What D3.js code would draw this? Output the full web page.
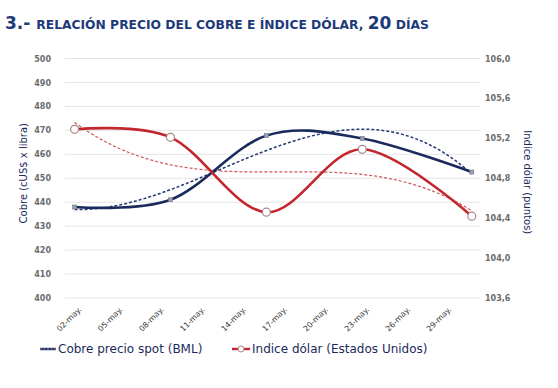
<!DOCTYPE html>
<html>
<head>
<meta charset="utf-8">
<script src="https://cdn.jsdelivr.net/npm/d3@7"></script>
<style>
  html, body { margin: 0; padding: 0; background: #fff; }
  svg { display: block; }
</style>
</head>
<body>
<svg id="chart" width="558" height="388"></svg>
<script>
// ---- DATA ----
const dates = ["2013-05-02", "2013-05-09", "2013-05-16", "2013-05-23", "2013-05-31"];
const cobre = [438, 441, 467.8, 466.6, 452.6];          // cUS$ x libra (left axis)
const dolar = [105.29, 105.21, 104.46, 105.09, 104.42];  // puntos (right axis)
const tickDates = ["2013-05-02", "2013-05-05", "2013-05-08", "2013-05-11", "2013-05-14",
                   "2013-05-17", "2013-05-20", "2013-05-23", "2013-05-26", "2013-05-29"];
const tickLabels = ["02-may.", "05-may.", "08-may.", "11-may.", "14-may.",
                    "17-may.", "20-may.", "23-may.", "26-may.", "29-may."];
const leftTicks = [400, 410, 420, 430, 440, 450, 460, 470, 480, 490, 500];
const rightTicks = [103.6, 104.0, 104.4, 104.8, 105.2, 105.6, 106.0];
const seriesNames = ["Cobre precio spot (BML)", "Indice dólar (Estados Unidos)"];

// ---- LAYOUT ----
const svg = d3.select("#chart");
const parse = d3.timeParse("%Y-%m-%d");
const D = dates.map(parse);
const DAY = 86400000;
const plot = { left: 65, right: 480, top: 58.5, bottom: 298 };

const x = d3.scaleTime()
  .domain([new Date(+D[0] - 0.7 * DAY), new Date(+D[D.length - 1] + 0.6 * DAY)])
  .range([plot.left, plot.right]);
const yL = d3.scaleLinear().domain([400, 500]).range([plot.bottom, plot.top]);
const yR = d3.scaleLinear().domain([103.6, 106.0]).range([plot.bottom, plot.top]);

const navy = "#1b2a5c";
const red = "#c3262c";
const labelGray = "#6b6b6b";
const FONT = "Verdana, DejaVu Sans, sans-serif";

// Title
const title = svg.append("text")
  .attr("x", 5).attr("y", 29)
  .attr("font-family", FONT)
  .attr("font-weight", "bold")
  .attr("fill", "#1d3a7a");
title.append("tspan").attr("font-size", 17).text("3.- ");
title.append("tspan").attr("font-size", 12.3).text("RELACIÓN PRECIO DEL COBRE E ÍNDICE DÓLAR, ");
title.append("tspan").attr("font-size", 17).text("20");
title.append("tspan").attr("font-size", 12.3).text(" DÍAS");

// Gridlines
svg.append("g").selectAll("line").data(leftTicks).join("line")
  .attr("x1", plot.left).attr("x2", plot.right)
  .attr("y1", d => yL(d)).attr("y2", d => yL(d))
  .attr("stroke", "#e4e4e4").attr("stroke-width", 1);

// Left axis
const gL = svg.append("g").attr("transform", `translate(${plot.left - 14},0)`)
  .call(d3.axisLeft(yL).tickValues(leftTicks).tickSize(0).tickPadding(0).tickFormat(d3.format("d")));
gL.select(".domain").remove();
gL.selectAll("text").attr("font-family", FONT)
  .attr("font-size", 8).attr("fill", labelGray).attr("font-weight", "bold");

// Right axis
const gR = svg.append("g").attr("transform", `translate(${plot.right + 5},0)`)
  .call(d3.axisRight(yR).tickValues(rightTicks).tickSize(0).tickPadding(0)
    .tickFormat(d => d3.format(".1f")(d).replace(".", ",")));
gR.select(".domain").remove();
gR.selectAll("text").attr("font-family", FONT)
  .attr("font-size", 8).attr("fill", labelGray).attr("font-weight", "bold");

// X axis
const gX = svg.append("g").attr("transform", `translate(0,${plot.bottom + 7})`)
  .call(d3.axisBottom(x).tickValues(tickDates.map(parse)).tickSize(0)
    .tickFormat((d, i) => tickLabels[i]));
gX.select(".domain").remove();
gX.selectAll("text")
  .attr("font-family", FONT)
  .attr("font-size", 7.8).attr("fill", "#333")
  .attr("text-anchor", "end")
  .attr("dy", "0.35em").attr("y", 0).attr("x", 0)
  .attr("transform", "translate(5,3) rotate(-45)");

// Axis titles
svg.append("text")
  .attr("transform", `translate(27,${(plot.top + plot.bottom) / 2 - 5}) rotate(-90)`)
  .attr("text-anchor", "middle")
  .attr("font-family", FONT)
  .attr("font-size", 10).attr("fill", navy)
  .text("Cobre (cUS$ x libra)");
svg.append("text")
  .attr("transform", `translate(524,${(plot.top + plot.bottom) / 2 + 4}) rotate(90)`)
  .attr("text-anchor", "middle")
  .attr("font-family", FONT)
  .attr("font-size", 10).attr("fill", navy)
  .text("Indice dólar (puntos)");

// Polynomial (order 3) trend — least squares, like the spreadsheet trendline
function polyfit(xs, ys, order) {
  const n = order + 1;
  const A = Array.from({ length: n }, () => new Array(n + 1).fill(0));
  for (let k = 0; k < xs.length; k++) {
    for (let i = 0; i < n; i++) {
      for (let j = 0; j < n; j++) A[i][j] += Math.pow(xs[k], i + j);
      A[i][n] += ys[k] * Math.pow(xs[k], i);
    }
  }
  for (let i = 0; i < n; i++) {
    let p = i;
    for (let r = i + 1; r < n; r++) if (Math.abs(A[r][i]) > Math.abs(A[p][i])) p = r;
    [A[i], A[p]] = [A[p], A[i]];
    for (let r = 0; r < n; r++) {
      if (r === i) continue;
      const f = A[r][i] / A[i][i];
      for (let c = i; c <= n; c++) A[r][c] -= f * A[i][c];
    }
  }
  return A.map((row, i) => row[n] / row[i]);
}
const days = D.map(d => (d - D[0]) / DAY);
function trend(values) {
  const c = polyfit(days, values, 3);
  const last = days[days.length - 1];
  return d3.range(0, last + 0.001, last / 120).map(t => ({
    date: new Date(+D[0] + t * DAY),
    v: c.reduce((s, ci, i) => s + ci * Math.pow(t, i), 0)
  }));
}

const lineL = d3.line().x(d => x(d.date)).y(d => yL(d.v));
const lineR = d3.line().x(d => x(d.date)).y(d => yR(d.v));
const smoothL = d3.line().x(d => x(d.date)).y(d => yL(d.v)).curve(d3.curveCardinal.tension(0));
const smoothR = d3.line().x(d => x(d.date)).y(d => yR(d.v)).curve(d3.curveCardinal.tension(0));

const cobreData = D.map((d, i) => ({ date: d, v: cobre[i] }));
const dolarData = D.map((d, i) => ({ date: d, v: dolar[i] }));

// Trendlines
svg.append("path").datum(trend(dolar)).attr("d", lineR)
  .attr("fill", "none").attr("stroke", "#d0575a").attr("stroke-width", 1.2)
  .attr("stroke-dasharray", "3,2");
svg.append("path").datum(trend(cobre)).attr("d", lineL)
  .attr("fill", "none").attr("stroke", "#233a72").attr("stroke-width", 1.5)
  .attr("stroke-dasharray", "3,2");

// Main series
svg.append("path").datum(cobreData).attr("d", smoothL)
  .attr("fill", "none").attr("stroke", navy).attr("stroke-width", 2.6);
svg.append("path").datum(dolarData).attr("d", smoothR)
  .attr("fill", "none").attr("stroke", red).attr("stroke-width", 2.6);

// Markers
svg.append("g").selectAll("rect").data(cobreData).join("rect")
  .attr("x", d => x(d.date) - 2).attr("y", d => yL(d.v) - 2)
  .attr("width", 4).attr("height", 4)
  .attr("fill", "#9a9fae").attr("stroke", "#6f7586").attr("stroke-width", 0.6);
svg.append("g").selectAll("circle").data(dolarData).join("circle")
  .attr("cx", d => x(d.date)).attr("cy", d => yR(d.v)).attr("r", 4)
  .attr("fill", "#fff").attr("stroke", "#a7888a").attr("stroke-width", 1.2);

// Legend
const leg = svg.append("g").attr("font-family", FONT)
  .attr("font-size", 12).attr("fill", navy);
const legY = 349;
// copper
leg.append("line").attr("x1", 40).attr("x2", 56).attr("y1", legY).attr("y2", legY)
  .attr("stroke", navy).attr("stroke-width", 2.4);
leg.append("line").attr("x1", 40).attr("x2", 56).attr("y1", legY).attr("y2", legY)
  .attr("stroke", "#8d93a6").attr("stroke-width", 1).attr("stroke-dasharray", "2,1.5");
leg.append("text").attr("x", 58).attr("y", legY + 4).text(seriesNames[0]);
// dollar
leg.append("line").attr("x1", 232).attr("x2", 250).attr("y1", legY).attr("y2", legY)
  .attr("stroke", red).attr("stroke-width", 2.4);
leg.append("circle").attr("cx", 241).attr("cy", legY).attr("r", 3)
  .attr("fill", "#fff").attr("stroke", "#a7888a").attr("stroke-width", 1);
leg.append("text").attr("x", 252).attr("y", legY + 4).text(seriesNames[1]);
</script>
</body>
</html>
